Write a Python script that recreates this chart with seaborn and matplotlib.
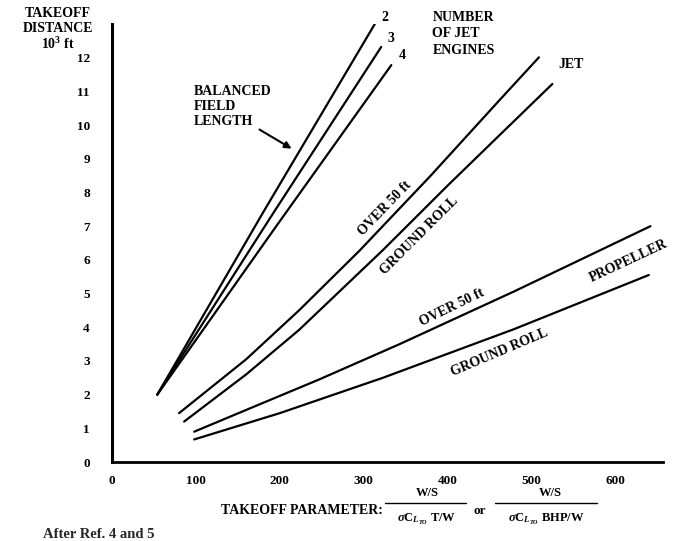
import numpy as np
import pandas as pd
import matplotlib
matplotlib.use("Agg")
import matplotlib.pyplot as plt
from matplotlib.lines import Line2D
import seaborn as sns

# Datos (x = takeoff parameter, y = distancia en 10^3 ft)
bfl2_x = [54, 180, 315]
bfl2_y = [2.0, 7.4, 13.07]
bfl3_x = [54, 190, 321]
bfl3_y = [2.0, 7.3, 12.32]
bfl4_x = [54, 195, 333]
bfl4_y = [2.0, 6.97, 11.78]

jet_over50_x = [80, 160, 223, 295, 380, 462, 509]
jet_over50_y = [1.45, 3.05, 4.5, 6.27, 8.5, 10.74, 12.01]
jet_ground_x = [86, 160, 223, 323, 400, 462, 525]
jet_ground_y = [1.2, 2.6, 3.92, 6.29, 8.2, 9.7, 11.22]

prop_over50_x = [98, 170, 247, 343, 480, 642]
prop_over50_y = [0.9, 1.65, 2.45, 3.5, 5.07, 7.0]
prop_ground_x = [98, 200, 323, 480, 640]
prop_ground_y = [0.67, 1.45, 2.5, 3.95, 5.55]

x_ticks = [0, 100, 200, 300, 400, 500, 600]
y_ticks = list(range(0, 13))

curvas = {
    "bfl2": (bfl2_x, bfl2_y),
    "bfl3": (bfl3_x, bfl3_y),
    "bfl4": (bfl4_x, bfl4_y),
    "jet_over50": (jet_over50_x, jet_over50_y),
    "jet_ground": (jet_ground_x, jet_ground_y),
    "prop_over50": (prop_over50_x, prop_over50_y),
    "prop_ground": (prop_ground_x, prop_ground_y),
}

sns.set_theme(style="white")
plt.rcParams["font.family"] = ["Liberation Serif", "DejaVu Serif"]
plt.rcParams["font.weight"] = "bold"
plt.rcParams["mathtext.fontset"] = "custom"
plt.rcParams["mathtext.rm"] = "Liberation Serif:bold"
plt.rcParams["mathtext.it"] = "Liberation Serif:bold:italic"
plt.rcParams["mathtext.bf"] = "Liberation Serif:bold"

W, H = 677, 541
fig = plt.figure(figsize=(W / 100, H / 100), dpi=100)
ax = fig.add_axes([0.1654, 0.146, 0.814, 0.8096])

for nombre, (xs, ys) in curvas.items():
    df = pd.DataFrame({"x": xs, "y": ys})
    sns.lineplot(data=df, x="x", y="y", ax=ax, color="black", lw=1.6,
                 sort=False, estimator=None)

ax.set_xlim(0, 657)
ax.set_ylim(0, 13)
ax.set_xticks(x_ticks)
ax.set_yticks(y_ticks)
ax.set_xticklabels([str(v) for v in x_ticks], fontsize=9.5, fontweight="bold")
ax.set_yticklabels([str(v) for v in y_ticks], fontsize=9.5, fontweight="bold")
ax.tick_params(direction="in", length=4, width=1.5, colors="black")
ax.tick_params(axis="x", pad=9)
ax.tick_params(axis="y", pad=16)
ax.set_xlabel("")
ax.set_ylabel("")
sns.despine(ax=ax)
ax.spines["left"].set_linewidth(2.2)
ax.spines["bottom"].set_linewidth(2.0)
ax.spines["left"].set_color("black")
ax.spines["bottom"].set_color("black")

kw = dict(fontsize=10, fontweight="bold", color="black")
ax.text(325, 13.2, "2", ha="center", va="center", clip_on=False, **kw)
ax.text(333, 12.58, "3", ha="center", va="center", **kw)
ax.text(346, 12.08, "4", ha="center", va="center", **kw)
ax.text(382, 13.4, "NUMBER\nOF JET\nENGINES", ha="left", va="top",
        linespacing=1.37, clip_on=False, **kw)
ax.text(547, 11.81, "JET", ha="center", va="center", **kw)
ax.text(98, 11.2, "BALANCED\nFIELD\nLENGTH", ha="left", va="top",
        linespacing=1.2, **kw)
ax.annotate("", xy=(217, 9.26), xytext=(173, 9.91),
            arrowprops=dict(arrowstyle="-|>", color="black", lw=1.5,
                            mutation_scale=10))

ax.text(325, 7.54, "OVER 50 ft", ha="center", va="center", rotation=46, **kw)
ax.text(367, 6.71, "GROUND ROLL", ha="center", va="center", rotation=45, **kw)
ax.text(405, 4.6, "OVER 50 ft", ha="center", va="center", rotation=26, **kw)
ax.text(462, 3.26, "GROUND ROLL", ha="center", va="center", rotation=23, **kw)
ax.text(616, 5.96, "PROPELLER", ha="center", va="center", rotation=25, **kw)

# Titulo del eje Y
fig.text(58 / W, 1 - 7 / H, "TAKEOFF\nDISTANCE\n10$^3$ ft", ha="center",
         va="top", linespacing=1.15, **kw)

# Etiqueta del eje X armada con fracciones
def ftext(px, py, s, **extra):
    fig.text(px / W, 1 - py / H, s, ha="center", va="center",
             fontweight="bold", color="black", **extra)

def barra(x0, x1, py):
    fig.add_artist(Line2D([x0 / W, x1 / W], [1 - py / H, 1 - py / H],
                          transform=fig.transFigure, color="black", lw=1.0))

fig.text(383 / W, 1 - 510 / H, "TAKEOFF PARAMETER:", ha="right", va="center",
         fontsize=10, fontweight="bold", color="black")
ftext(427, 493, "W/S", fontsize=9)
barra(385, 466, 503)
ftext(427, 519, r"$\sigma$C$_{L_{TO}}$ T/W", fontsize=9)
ftext(480, 511, "or", fontsize=9.5)
ftext(550, 493, "W/S", fontsize=9)
barra(495, 597, 503)
ftext(546, 519, r"$\sigma$C$_{L_{TO}}$ BHP/W", fontsize=9)

fig.text(43 / W, 1 - 528 / H, "After Ref. 4 and 5", ha="left", va="top",
         fontsize=10.5, fontweight="bold")

fig.savefig("out.png", dpi=100, facecolor="white")
